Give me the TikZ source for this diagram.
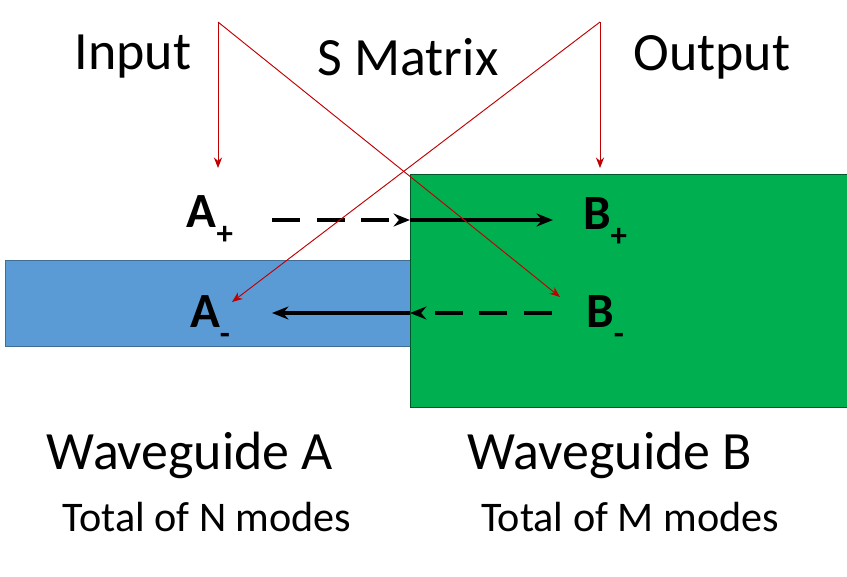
\documentclass[tikz,border=0pt]{standalone}
\usepackage{fontspec}
\setmainfont{Carlito}
\usetikzlibrary{arrows.meta}
\newcommand{\msub}[1]{\raisebox{-0.35em}{\fontsize{28}{30}\selectfont #1}}
\begin{document}
\begin{tikzpicture}[x=0.03cm,y=-0.03cm,
  lbl/.style={inner sep=0pt,anchor=center},
  big/.style={lbl,font=\fontsize{46}{50}\selectfont},
  small/.style={lbl,font=\fontsize{36}{40}\selectfont},
  mode/.style={lbl,font=\fontsize{42}{46}\selectfont\bfseries},
  blk/.style={line width=3pt,-{Stealth[length=14pt,width=11pt]}},
  dsh/.style={blk,dash pattern=on 24pt off 14pt},
  red/.style={draw=red!75!black,line width=0.8pt,-{Stealth[length=9pt,width=7pt]}}]
\useasboundingbox (0,0) rectangle (847,576);
\definecolor{wga}{HTML}{5B9BD5}\definecolor{wgb}{HTML}{00B050}
\node[draw={wga!70!black},fill=wga,line width=0.8pt,minimum width=407*0.03cm,minimum height=86*0.03cm,anchor=north west,inner sep=0pt] (wa) at (5,260) {};
\node[draw={wgb!50!black},fill=wgb,line width=0.8pt,minimum width=437*0.03cm,minimum height=233*0.03cm,anchor=north west,inner sep=0pt] (wb) at (410,174) {};
\node[big] (in) at (133,57) {Input};
\node[big] (sm) at (408,57) {S Matrix};
\node[big] (out) at (712,57) {Output};
\node[big] (tA) at (190,455) {Waveguide A};
\node[big] (tB) at (610,455) {Waveguide B};
\node[small] (nA) at (207,517) {Total of N modes};
\node[small] (nB) at (630,517) {Total of M modes};
\node[mode] (ap) at (210,220) {A\msub{+}};
\node[mode] (am) at (210,320) {A\msub{-}};
\node[mode] (bp) at (605,222) {B\msub{+}};
\node[mode] (bm) at (605,320) {B\msub{-}};
\coordinate (d1) at (272,220); \coordinate (m1) at (410,220); \coordinate (e1) at (553,220);
\coordinate (d2) at (552,313); \coordinate (m2) at (410,313); \coordinate (e2) at (272,313);
\draw[dsh] (d1) -- (m1);
\draw[blk] (m1) -- (e1);
\draw[dsh] (d2) -- (m2);
\draw[blk] (m2) -- (e2);
\coordinate (r1) at (218,22); \coordinate (r2) at (600,22);
\coordinate (ta) at (218,168); \coordinate (tb) at (600,168);
\coordinate (tbm) at (560,297); \coordinate (tam) at (232,302);
\draw[red] (r1) -- (ta);
\draw[red] (r1) -- (tbm);
\draw[red] (r2) -- (tb);
\draw[red] (r2) -- (tam);
\end{tikzpicture}
\end{document}
